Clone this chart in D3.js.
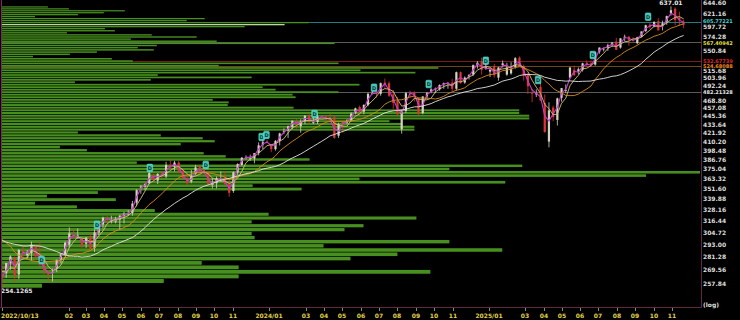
<!DOCTYPE html>
<html>
<head>
<meta charset="utf-8">
<script src="https://cdn.jsdelivr.net/npm/d3@7"></script>
<style>
body { margin: 0; background: #000; }
svg { display: block; }
text { font-family: "DejaVu Sans", sans-serif; }
</style>
</head>
<body>
<div id="chart"></div>
<script>
// weekly bars, Mondays from 2022-10-10 to 2025-11-17 (163 weeks)
var weeks = d3.timeMonday.range(new Date(2022, 9, 10), new Date(2025, 10, 18));

var open = [
  266, 267, 276, 281, 266, 287, 283, 285, 292, 284, 275, 268,
  268, 271, 279, 284, 293, 302, 300, 299, 294, 301, 290, 305, 313, 319, 317, 316, 318, 322, 324, 325, 336, 353, 354, 358, 368, 361,
  370, 366, 380, 378, 383, 373, 364, 360, 369, 378, 374, 371, 356, 358, 362, 365, 357, 349, 371, 380, 389, 389, 388, 395, 406, 410,
  405, 400, 411, 423, 425, 430, 438, 431, 438, 446, 437, 437, 445, 445, 441, 444, 418, 437, 436, 439, 450, 459, 452, 462, 480, 480,
  479, 497, 496, 478, 468, 427, 453, 481, 481, 472, 450, 475, 482, 486, 486, 494, 495, 497, 487, 514, 497, 507, 510, 526, 532, 520, 515,
  524, 505, 526, 510, 512, 523, 539, 524, 510, 480, 478, 490, 465, 410, 458, 440, 473, 484, 505, 518, 515, 518, 530, 529, 527, 550,
  555, 556, 563, 568, 557, 575, 577, 571, 565, 577, 588, 600, 597, 607, 598, 606, 623, 632, 614, 606
];
var high = [
  273, 276, 283, 282, 289, 292, 288, 296, 293, 296, 278, 270,
  271, 279, 285, 296, 310, 308, 309, 300, 300, 304, 308, 312, 321, 322, 322, 321, 323, 326, 328, 338, 351, 356, 358, 373, 369, 370,
  372, 384, 387, 385, 385, 375, 368, 374, 380, 380, 380, 373, 364, 366, 372, 372, 363, 372, 382, 390, 392, 393, 395, 409, 412, 412,
  406, 412, 422, 428, 432, 439, 441, 441, 447, 449, 445, 449, 446, 447, 449, 446, 436, 439, 441, 451, 458, 461, 463, 481, 486, 485,
  497, 503.5, 499, 485, 474, 455, 482, 484, 483, 473, 475, 482, 488, 489, 494, 497, 498, 503, 515, 515, 507, 510, 527, 533, 539, 532, 520,
  528, 523, 534, 530, 531, 540, 541, 527, 513, 487, 486, 497, 478, 466, 461, 473, 488, 494, 522, 525, 522, 530, 534, 534, 549, 557,
  557, 564, 567, 575, 574, 581, 578, 576, 577, 587, 600, 604, 607, 613, 608, 618, 637.01, 635, 626, 610
];
var low = [
  254.13, 263, 270, 260, 262, 281, 280, 278, 280, 273, 266, 260,
  260, 268, 276, 283, 290, 298, 299, 290, 290, 288, 286, 302, 309, 314, 314, 314, 308, 314, 322, 322, 332, 346, 350, 357, 360, 357,
  364, 364, 374, 372, 370, 362, 356, 358, 368, 369, 368, 356, 352, 352, 360, 356, 342.4, 347, 368, 379, 387, 385, 382, 392, 400, 408,
  396, 398, 405, 420, 415, 427, 428, 422, 434, 435, 434, 434, 442, 437, 436, 414, 415, 422, 434, 438, 448, 446, 448, 460, 478, 473,
  476, 488, 474, 456, 446, 420.7, 450, 473, 467, 448, 448, 471, 480, 480, 484, 487, 487, 483, 484, 495, 495, 502, 508, 520, 510, 518, 506,
  505, 500, 522, 508, 510, 520, 524, 500, 479, 466, 474, 468, 422, 402.4, 438, 432, 467, 480, 504, 508, 510, 515, 523, 523, 525, 546,
  550, 551, 558, 553, 555, 569, 560, 568, 563, 576, 586, 592, 595, 589, 589, 600, 618, 599, 598, 593
];
var close = [
  262.5, 276, 282, 265, 288, 284, 286, 293, 282, 275, 269, 266,
  268, 279, 284, 295, 304, 300, 302, 292, 300, 289, 305, 312, 320, 318, 317, 318, 322, 324, 324, 335, 350, 354, 357, 370, 362, 369,
  366, 380, 377, 383, 372, 364, 358, 367, 377, 372, 370, 357, 358, 364, 363, 357, 347, 371, 381, 389, 390, 389, 395, 405, 409, 409.5,
  400, 411, 421, 424, 431, 439, 434, 438, 446, 438, 437, 445, 444, 441, 440, 415, 434, 436, 439, 449, 457, 451, 462, 479, 480, 479,
  496, 494, 476, 465, 448, 452, 480, 480, 476, 448, 475, 480, 486, 487, 493, 496, 496, 487, 514, 496, 505, 509.7, 526, 530, 518, 523, 518,
  509, 522, 529, 522, 519, 538, 524, 508, 491, 479, 480, 469, 423, 454, 444, 472, 488, 485, 522, 509, 519, 529, 526, 526, 548, 557,
  555, 561, 566, 553, 574, 577, 571, 570, 576, 587, 599, 596, 605, 589, 603, 617, 629, 609, 609, 600
];
// weekly closes before the first bar, only used to start the moving averages
var histClose = [313, 309, 289, 305, 305, 287, 278, 293, 281, 295, 296, 301, 315, 321, 331, 324, 311, 302, 308, 291, 278, 268, 266];
var maPeriods = [2, 4, 12, 24];
var maColors = ["#c83cd0", "#cfc27a", "#d88c1c", "#e4e4e4"];

// volume by price, from the top bin down to the bottom bin
var profileTopDown = [
  46, 67, 123, 102, 76, 33, 203, 185, 307, 283, 243, 103, 113, 65, 150, 195, 129, 215, 333, 155, 136,
  152, 95, 68, 31, 110, 131, 337, 217, 437, 359, 414, 156, 250, 149, 73, 358, 261, 274, 337, 291, 294,
  211, 227, 226, 292, 518, 518, 528, 528, 388, 400, 413, 413, 76, 159, 201, 213, 179, 58, 85, 202,
  224, 308, 135, 521, 448, 699, 645, 358, 504, 251, 300, 96,
  45, 114, 33, 75, 153, 267, 415, 250, 362, 343, 250, 253, 448, 322, 501, 396, 349, 200, 237, 429, 237, 162,
  40
];
var profileLow = 254.13, profileHigh = 637.01;

var levelValues = [605.77221, 567.40942, 532.67739, 524.68088, 482.21328];
var levelLine = ["#1f7f7f", "#5c5c50", "#7a1c1c", "#6e4716", "#5a5a5a"];
var levelText = ["#3fd4d4", "#e6e03c", "#e02424", "#f08a1e", "#e6e6e6"];
var levelNudge = [-1, 1.2, 0, 0, 0];

var yTicks = [644.60, 621.16, 597.72, 574.28, 550.84, 515.68, 503.96, 492.24, 468.80, 457.08, 445.36, 433.64,
  421.92, 410.20, 398.48, 386.76, 375.04, 363.32, 351.60, 339.88, 328.16, 316.44, 304.72, 293.00, 281.28, 269.56, 257.84];
var yTickNudge = {"597.72": 1.2, "574.28": -1.8};

var tickDates = ["2022-10-13", "2023-02-01", "2023-03-01", "2023-04-01", "2023-05-01", "2023-06-01", "2023-07-01", "2023-08-01",
  "2023-09-01", "2023-10-01", "2023-11-01", "2024-01-01", "2024-03-01", "2024-04-01", "2024-05-01", "2024-06-01", "2024-07-01",
  "2024-08-01", "2024-09-01", "2024-10-01", "2024-11-01", "2025-01-01", "2025-03-01", "2025-04-01", "2025-05-01", "2025-06-01",
  "2025-07-01", "2025-08-01", "2025-09-01", "2025-10-01", "2025-11-01"];
var tickLabels = ["2022/10/13", "02", "03", "04", "05", "06", "07", "08", "09", "10", "11", "2024/01", "03", "04", "05", "06", "07",
  "08", "09", "10", "11", "2025/01", "03", "04", "05", "06", "07", "08", "09", "10", "11"];

// dividend marks
var markDates = ["2022-12-18", "2023-03-20", "2023-06-16", "2023-09-17", "2023-12-19", "2023-12-27", "2024-03-16",
  "2024-06-23", "2024-09-22", "2024-12-26", "2025-03-23", "2025-06-22", "2025-09-22"];
var markPrices = [278.8, 312.6, 376.3, 379.9, 416.2, 419.0, 448.6, 488.7, 494.6, 533.6, 501.1, 543.6, 615.9];

var upColor = "#d6d2c2", downColor = "#e03434";
var plot = {left: 2, right: 701, top: 0, bottom: 307};
var parse = d3.timeParse("%Y-%m-%d");

var svg = d3.select("#chart")
  .append("svg")
  .attr("width", 740)
  .attr("height", 320)
  .style("background", "#000");

svg.append("clipPath").attr("id", "clip")
  .append("rect")
  .attr("x", plot.left).attr("y", plot.top)
  .attr("width", plot.right - plot.left).attr("height", plot.bottom - plot.top);

var x = d3.scaleTime()
  .domain([new Date(2022, 9, 13), new Date(2025, 11, 19)])
  .range([plot.left, plot.right]);
var y = d3.scaleLog()
  .domain([239.2, 650.3])
  .range([plot.bottom, plot.top]);

var data = weeks.map(function(d, i) {
  return {date: d3.timeDay.offset(d, 3), o: open[i], h: high[i], l: low[i], c: close[i]};
});

var inner = svg.append("g").attr("clip-path", "url(#clip)");

// level lines
inner.selectAll(".level")
  .data(levelValues)
  .enter()
  .append("line")
  .attr("x1", plot.left).attr("x2", plot.right)
  .attr("y1", function(d) { return Math.round(y(d)) + 0.5; })
  .attr("y2", function(d) { return Math.round(y(d)) + 0.5; })
  .attr("stroke", function(d, i) { return levelLine[i]; });

// volume profile
var profile = profileTopDown.slice().reverse();
var step = (profileHigh - profileLow) / profile.length;
var xVol = d3.scaleLinear()
  .domain([0, d3.max(profile)])
  .range([plot.left, 700]);
var lastClose = close[close.length - 1];
var currentBin = Math.floor((lastClose - profileLow) / step);

inner.selectAll(".vbar")
  .data(profile)
  .enter()
  .append("rect")
  .attr("x", plot.left)
  .attr("y", function(d, i) { return y(profileLow + (i + 1) * step); })
  .attr("height", function(d, i) {
    return Math.max(0.5, y(profileLow + i * step) - y(profileLow + (i + 1) * step) - 0.7);
  })
  .attr("width", function(d) { return xVol(d) - plot.left; })
  .attr("fill", function(d, i) { return i === currentBin ? "#b6dc9c" : "#47901f"; });

// candles
var bw = 2.2;
var candle = inner.selectAll(".candle")
  .data(data)
  .enter()
  .append("g");
candle.append("line")
  .attr("x1", function(d) { return x(d.date); })
  .attr("x2", function(d) { return x(d.date); })
  .attr("y1", function(d) { return y(d.h); })
  .attr("y2", function(d) { return y(d.l); })
  .attr("stroke", function(d) { return d.c >= d.o ? upColor : downColor; })
  .attr("stroke-width", 0.8);
candle.append("rect")
  .attr("x", function(d) { return x(d.date) - bw / 2; })
  .attr("y", function(d) { return y(Math.max(d.o, d.c)); })
  .attr("width", bw)
  .attr("height", function(d) { return Math.max(0.8, Math.abs(y(d.o) - y(d.c))); })
  .attr("fill", function(d) { return d.c >= d.o ? upColor : downColor; });

// moving averages, drawn over the candles
var allClose = histClose.concat(close);
var line = d3.line()
  .x(function(d) { return x(d.date); })
  .y(function(d) { return y(d.v); });

maPeriods.forEach(function(n, k) {
  var pts = data.map(function(d, i) {
    var j = i + histClose.length;
    return {date: d.date, v: d3.mean(allClose.slice(j - n + 1, j + 1))};
  });
  inner.append("path")
    .datum(pts)
    .attr("d", line)
    .attr("fill", "none")
    .attr("stroke", maColors[k])
    .attr("stroke-width", k === 0 ? 1.1 : 0.9);
});

// dividend marks
var mark = inner.selectAll(".mark")
  .data(markDates)
  .enter()
  .append("g")
  .attr("transform", function(d, i) { return "translate(" + x(parse(d)) + "," + y(markPrices[i]) + ")"; });
mark.append("rect")
  .attr("x", -2.8).attr("y", -3.8)
  .attr("width", 5.6).attr("height", 7.6)
  .attr("rx", 1)
  .attr("fill", "#3cc8b8")
  .attr("stroke", "#7fe8e0")
  .attr("stroke-width", 0.5);
mark.append("text")
  .attr("text-anchor", "middle")
  .attr("y", 2)
  .attr("font-size", "5px")
  .attr("font-weight", "bold")
  .attr("fill", "#0b3a36")
  .text("D");

// high / low labels
var hiIdx = d3.maxIndex(high), loIdx = d3.minIndex(low);
svg.append("text")
  .attr("x", x(data[hiIdx].date))
  .attr("y", y(high[hiIdx]) - 1.5)
  .attr("text-anchor", "middle")
  .attr("font-size", "6px")
  .attr("font-weight", "bold")
  .attr("fill", "#e8e8e8")
  .text(high[hiIdx].toFixed(2));
svg.append("text")
  .attr("x", 1)
  .attr("y", y(low[loIdx]) + 5)
  .attr("font-size", "6px")
  .attr("font-weight", "bold")
  .attr("fill", "#e8e8e8")
  .text("254.1265");

// axes frame
svg.append("line")
  .attr("x1", 1.5).attr("x2", 1.5).attr("y1", 0).attr("y2", plot.bottom)
  .attr("stroke", "#7a2a60");
svg.append("line")
  .attr("x1", plot.right + 0.5).attr("x2", plot.right + 0.5).attr("y1", 0).attr("y2", plot.bottom + 0.5)
  .attr("stroke", "#5e2a3c");
svg.append("line")
  .attr("x1", 0).attr("x2", plot.right + 0.5).attr("y1", plot.bottom + 0.5).attr("y2", plot.bottom + 0.5)
  .attr("stroke", "#5e2a3c");

// x ticks
var xt = svg.selectAll(".xt")
  .data(tickDates)
  .enter()
  .append("g")
  .attr("transform", function(d) { return "translate(" + Math.round(x(parse(d))) + ",0)"; });
xt.append("line")
  .attr("x1", 0.5).attr("x2", 0.5)
  .attr("y1", plot.bottom + 1).attr("y2", plot.bottom + 4)
  .attr("stroke", "#8a8a8a");
xt.append("text")
  .attr("x", function(d, i) { return i === 0 ? -1 : 0; })
  .attr("y", 317.5)
  .attr("text-anchor", function(d, i) { return i === 0 ? "start" : "middle"; })
  .attr("font-size", "6px")
  .attr("font-weight", "bold")
  .attr("fill", "#e2d24a")
  .text(function(d, i) { return tickLabels[i]; });

// y ticks
svg.selectAll(".yt")
  .data(yTicks)
  .enter()
  .append("text")
  .attr("x", 703)
  .attr("y", function(d) { return y(d) + (yTickNudge[d.toFixed(2)] || 0); })
  .attr("dy", "0.36em")
  .attr("font-size", "6px")
  .attr("font-weight", "bold")
  .attr("fill", "#dedede")
  .text(function(d) { return d.toFixed(2); });

svg.append("text")
  .attr("x", 703)
  .attr("y", 307)
  .attr("font-size", "6px")
  .attr("font-weight", "bold")
  .attr("fill", "#dedede")
  .text("(log)");

// level labels
var lv = svg.selectAll(".lv")
  .data(levelValues)
  .enter()
  .append("g")
  .attr("transform", function(d, i) { return "translate(703," + (y(d) + levelNudge[i]) + ")"; });
lv.append("rect")
  .attr("x", 0).attr("y", -2.6)
  .attr("width", 37).attr("height", 5.2)
  .attr("fill", "#000");
lv.append("text")
  .attr("dy", "0.36em")
  .attr("font-size", "5px")
  .attr("font-weight", "bold")
  .attr("fill", function(d, i) { return levelText[i]; })
  .text(function(d) { return d.toFixed(5); });
</script>
</body>
</html>
